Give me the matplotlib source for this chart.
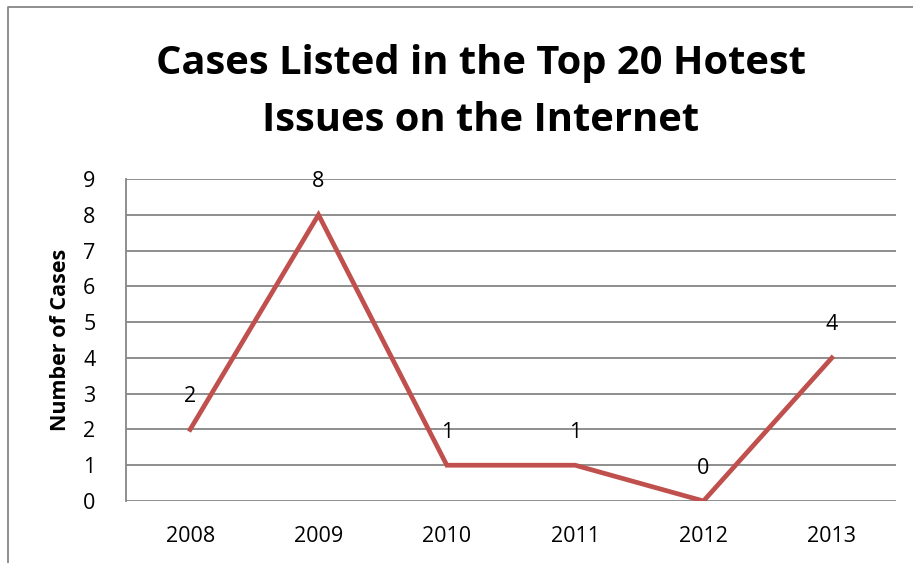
import matplotlib
matplotlib.use("Agg")
import matplotlib.pyplot as plt
from matplotlib.lines import Line2D

years = ["2008", "2009", "2010", "2011", "2012", "2013"]
cases = [2, 8, 1, 1, 0, 4]
y_ticks = list(range(0, 10))

title = "Cases Listed in the Top 20 Hotest\nIssues on the Internet"
y_label = "Number of Cases"

plt.rcParams["font.family"] = ["Open Sans", "DejaVu Sans"]

fig = plt.figure(figsize=(9.13, 5.63), dpi=100)
ax = fig.add_axes([126 / 913, 62 / 563, 770 / 913, 322 / 563])

x = list(range(len(years)))
ax.plot(x, cases, color="#C0504D", linewidth=3.4, solid_joinstyle="miter")

for xi, v in zip(x, cases):
    ax.annotate(str(v), (xi, v), xytext=(0, 33), textcoords="offset pixels",
                ha="center", va="center", fontsize=15.5, color="black")

ax.set_xlim(-0.5, len(years) - 0.5)
ax.set_ylim(0, 9)
ax.set_xticks(x)
ax.set_xticklabels(years)
ax.set_yticks(y_ticks)
ax.tick_params(axis="both", length=0, labelsize=15.5)
ax.tick_params(axis="y", pad=22)
ax.tick_params(axis="x", pad=18)

ax.grid(axis="y", color="#868686", linewidth=1.3)
ax.set_axisbelow(True)
for side in ["top", "right", "bottom"]:
    ax.spines[side].set_visible(False)
ax.spines["left"].set_color("#868686")
ax.spines["left"].set_linewidth(1.3)

ax.set_ylabel(y_label, fontsize=15.5, fontweight="bold", labelpad=9)

fig.text(481 / 913, 1 - 92 / 563, title, ha="center", va="center",
         fontsize=28.7, fontweight="bold", linespacing=1.6)

# chart border (left and top edges visible in the crop)
fig.add_artist(Line2D([8 / 913, 8 / 913, 1.0], [0.0, 1 - 7 / 563, 1 - 7 / 563],
                      transform=fig.transFigure, color="#868686", linewidth=1.3))

fig.savefig("out.png", dpi=100)
